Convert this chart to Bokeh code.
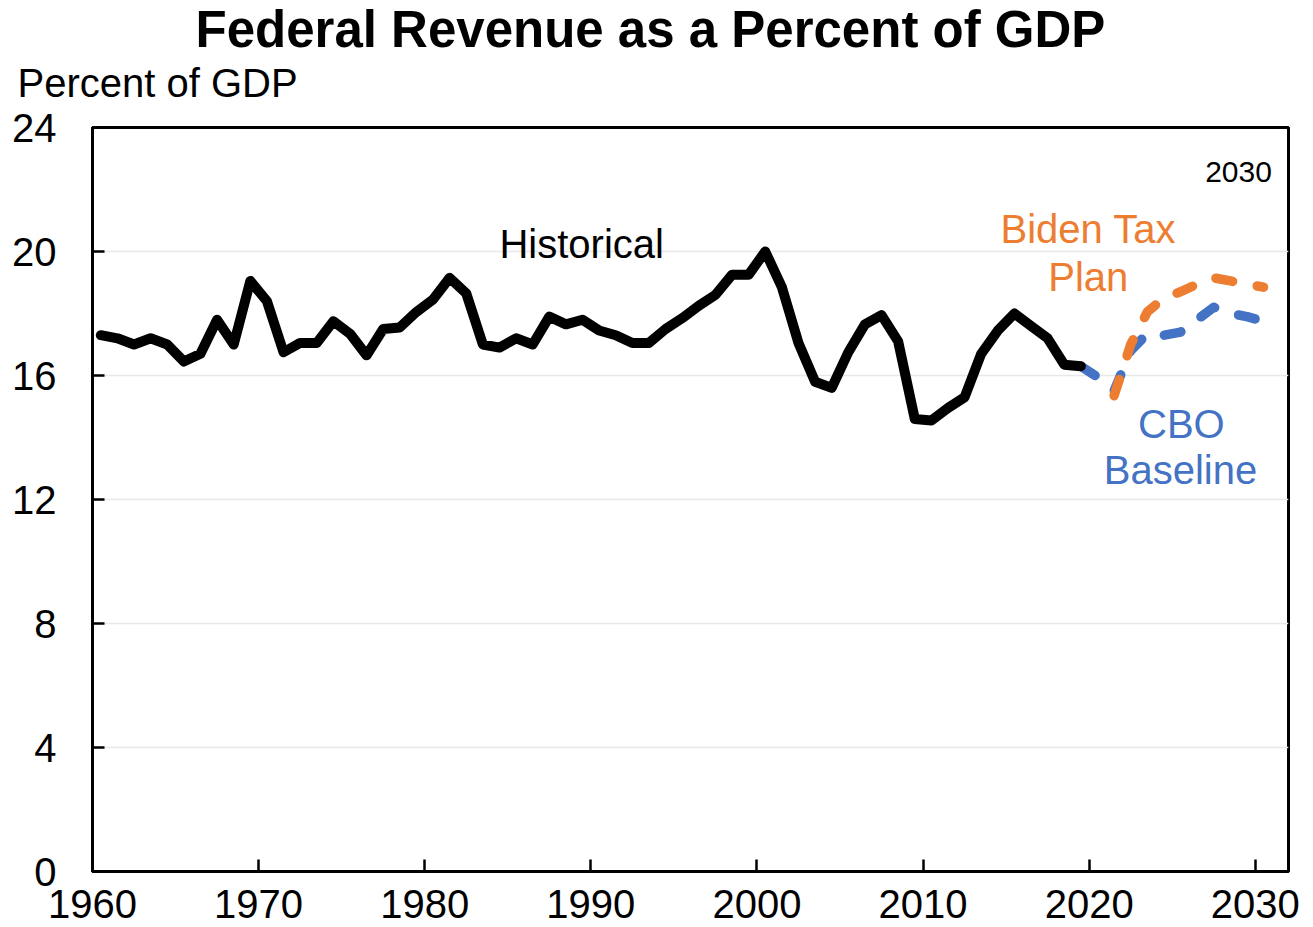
from bokeh.plotting import figure
from bokeh.models import Range1d, FixedTicker, Label, Title, ColumnDataSource
from bokeh.transform import dodge
from bokeh.embed import file_html
from bokeh.resources import INLINE

# ---- data (fiscal years, percent of GDP) ----
hist_years = list(range(1960, 2020))
hist_revenue = [17.3, 17.2, 17.0, 17.2, 17.0, 16.45, 16.7, 17.8, 17.0, 19.05,
                18.4, 16.75, 17.05, 17.05, 17.75, 17.35, 16.65, 17.5, 17.55, 18.05,
                18.45, 19.15, 18.65, 17.0, 16.9, 17.2, 17.0, 17.9, 17.65, 17.8,
                17.45, 17.3, 17.05, 17.05, 17.5, 17.85, 18.25, 18.6, 19.25, 19.25,
                20.0, 18.85, 17.05, 15.8, 15.6, 16.75, 17.65, 17.95, 17.1, 14.6,
                14.55, 14.95, 15.3, 16.7, 17.45, 18.0, 17.6, 17.2, 16.35, 16.3]

cbo_years = list(range(2019, 2031))
cbo_revenue = [16.3, 15.95, 15.5, 16.8, 17.35, 17.3, 17.4, 17.8, 18.2, 18.0, 17.9, 17.75]

biden_years = list(range(2021, 2031))
biden_revenue = [15.35, 17.0, 18.05, 18.5, 18.7, 18.95, 19.15, 19.05, 18.95, 18.85]

x_ticks = [1960, 1970, 1980, 1990, 2000, 2010, 2020, 2030]
y_ticks = [0, 4, 8, 12, 16, 20, 24]

title_text = "Federal Revenue as a Percent of GDP"
unit_text = "Percent of GDP"

BLACK = "#000000"
ORANGE = "#ED7D31"
BLUE = "#4472C4"
FONT = "Liberation Sans"

p = figure(frame_width=1196, frame_height=744,
           x_range=Range1d(1960, 2032), y_range=Range1d(0, 24),
           output_backend="svg", toolbar_location=None,
           min_border_left=92, min_border_right=17, min_border_top=127,
           min_border_bottom=56)

p.outline_line_color = "black"
p.outline_line_width = 3
p.outline_line_alpha = 1.0
p.background_fill_color = "white"
p.border_fill_color = "white"

p.xgrid.visible = False
p.ygrid.grid_line_color = "#E8E8E8"
p.ygrid.grid_line_width = 1.5
p.ygrid.ticker = FixedTicker(ticks=y_ticks)

for ax in (p.xaxis[0], p.yaxis[0]):
    ax.axis_line_color = "black"
    ax.axis_line_width = 3
    ax.major_tick_line_color = "black"
    ax.major_tick_line_width = 2.5
    ax.major_tick_in = 12
    ax.major_tick_out = 0
    ax.minor_tick_line_color = None
    ax.major_label_text_font = FONT
    ax.major_label_text_font_size = "40px"
    ax.major_label_text_color = "black"

p.xaxis.ticker = FixedTicker(ticks=x_ticks)
p.yaxis.ticker = FixedTicker(ticks=y_ticks)
p.xaxis.major_label_standoff = 18
p.yaxis.major_label_standoff = 36

# titles above the frame
unit_title = Title(text=unit_text, align="left", offset=-75, text_font=FONT,
                   text_font_size="40px", text_font_style="normal", text_color="black",
                   standoff=46)
p.add_layout(unit_title, "above")
main_title = Title(text=title_text, align="left", offset=103, text_font=FONT,
                   text_font_size="51px", text_font_style="bold", text_color="black",
                   standoff=-44)
p.add_layout(main_title, "above")

hist_src = ColumnDataSource(dict(year=hist_years, rev=hist_revenue))
cbo_src = ColumnDataSource(dict(year=cbo_years, rev=cbo_revenue))
biden_src = ColumnDataSource(dict(year=biden_years, rev=biden_revenue))

p.line(x=dodge("year", 0.5), y="rev", source=cbo_src, line_color=BLUE,
       line_width=9.5, line_dash="17 25", line_cap="round", line_join="round")
p.line(x=dodge("year", 0.5), y="rev", source=biden_src, line_color=ORANGE,
       line_width=9.5, line_dash="17 25", line_cap="round", line_join="round")
p.line(x=dodge("year", 0.5), y="rev", source=hist_src, line_color=BLACK,
       line_width=10, line_cap="round", line_join="round")

def add_label(x, y, text, size="40px", color="black", align="center"):
    p.add_layout(Label(x=x, y=y, text=text, text_font=FONT, text_font_size=size,
                       text_color=color, text_align=align, text_baseline="alphabetic"))

add_label(1989.45, 20.25, "Historical")
add_label(2019.95, 20.74, "Biden Tax", color=ORANGE)
add_label(2019.95, 19.18, "Plan", color=ORANGE)
add_label(2025.55, 14.45, "CBO", color=BLUE)
add_label(2025.5, 12.94, "Baseline", color=BLUE)
add_label(2031.0, 22.55, "2030", size="30px", align="right")

open("out.html", "w").write(file_html(p, INLINE))
